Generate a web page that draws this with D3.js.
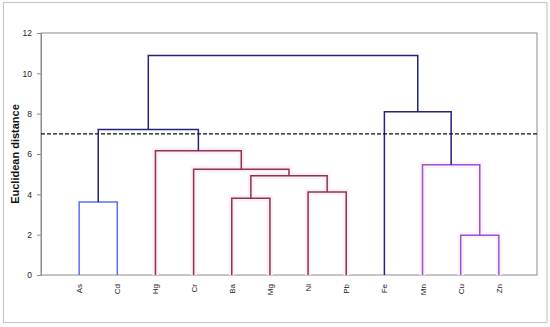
<!DOCTYPE html>
<html><head><meta charset="utf-8">
<script src="https://cdn.jsdelivr.net/npm/d3@7"></script>
<style>body{margin:0;background:#fff}svg{display:block}</style>
</head><body>
<svg id="c" width="550" height="327"></svg>
<script>
const leaves = ["As","Cd","Hg","Cr","Ba","Mg","Ni","Pb","Fe","Mn","Cu","Zn"];
const yTicks = [0,2,4,6,8,10,12];
const cutHeight = 7;
// merges: [left, right, height, colorGroup]
const merges = [
  ["As","Cd",3.62,"blue"],
  ["Ba","Mg",3.80,"red"],
  ["Ni","Pb",4.11,"red"],
  ["BaMg","NiPb",4.92,"red"],
  ["Cr","BaMgNiPb",5.24,"red"],
  ["Hg","CrBaMgNiPb",6.16,"red"],
  ["AsCd","HgCrBaMgNiPb",7.22,"navy"],
  ["Cu","Zn",1.97,"purple"],
  ["Mn","CuZn",5.47,"purple"],
  ["Fe","MnCuZn",8.10,"navy"],
  ["AsCdHgCrBaMgNiPb","FeMnCuZn",10.89,"navy"]
];
const colors = {blue:"#5a6ef0", red:"#8c3450", purple:"#9458c8", navy:"#23237a"};
const glow = {blue:null, red:"#fdedf8", purple:"#fdeffc", navy:null};

const svg = d3.select("#c");
const L=41, R=537, T=33, B=275;
const x = d3.scalePoint().domain(leaves).range([L,R]).padding(1);
const y = d3.scaleLinear().domain([0,12]).range([B,T]);

svg.append("rect").attr("x",3.5).attr("y",2.5).attr("width",543.5).attr("height",320)
  .attr("fill","#fff").attr("stroke","#c8c8c8").attr("stroke-width",1.2);
svg.append("rect").attr("x",L).attr("y",T).attr("width",R-L).attr("height",B-T)
  .attr("fill","none").attr("stroke","#8c8c8c").attr("stroke-width",1);

const yAxis = svg.append("g").attr("transform",`translate(${L},0)`)
  .call(d3.axisLeft(y).tickValues(yTicks).tickSize(4).tickPadding(5));
yAxis.select(".domain").attr("stroke","#8c8c8c");
yAxis.selectAll("line").attr("stroke","#8c8c8c");
yAxis.selectAll("text").attr("font-family","Liberation Sans, Arial, sans-serif").attr("font-size",8.5).attr("fill","#222");

svg.append("text").attr("transform",`translate(19,${(T+B)/2}) rotate(-90)`)
  .attr("text-anchor","middle").attr("font-family","Liberation Sans, Arial, sans-serif")
  .attr("font-weight","bold").attr("font-size",11).attr("fill","#111").text("Euclidean distance");

// leaf labels
svg.append("g").selectAll("text").data(leaves).join("text")
  .attr("transform",d=>`translate(${x(d)+3},284) rotate(-90)`)
  .attr("text-anchor","end").attr("font-family","Liberation Sans, Arial, sans-serif")
  .attr("font-size",8).attr("fill","#222").text(d=>d);

// compute node positions
const pos = {};
leaves.forEach(l=>pos[l]={x:x(l),h:0});
const gGlow = svg.append("g"), gLine = svg.append("g");
merges.forEach(([a,b,h,c])=>{
  const A=pos[a], Bn=pos[b];
  const path = `M${A.x},${y(A.h)}V${y(h)}H${Bn.x}V${y(Bn.h)}`;
  if(glow[c]) gGlow.append("path").attr("d",path).attr("fill","none").attr("stroke",glow[c]).attr("stroke-width",6);
  gLine.append("path").attr("d",path).attr("fill","none").attr("stroke",colors[c]).attr("stroke-width",1.5);
  pos[a+b]={x:(A.x+Bn.x)/2,h:h};
});

svg.append("line").attr("x1",L).attr("x2",R).attr("y1",y(cutHeight)).attr("y2",y(cutHeight))
  .attr("stroke","#111").attr("stroke-width",1.3).attr("stroke-dasharray","4,2");
</script>
</body></html>
